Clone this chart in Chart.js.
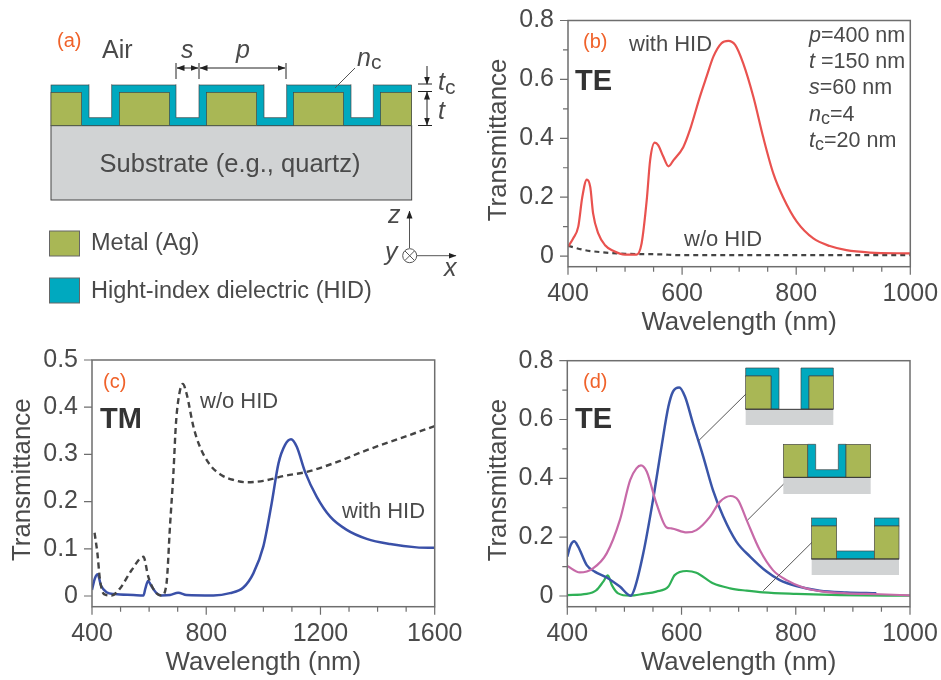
<!DOCTYPE html>
<html>
<head>
<meta charset="utf-8">
<title>Transmittance</title>
<script src="https://cdn.jsdelivr.net/npm/chart.js@4"></script>
<style>
  html, body { margin: 0; padding: 0; background: #fff; }
  #page { position: relative; width: 941px; height: 680px; overflow: hidden; }
  canvas { position: absolute; }
  #overlay { position: absolute; left: 0; top: 0; pointer-events: none; }
  #overlay text { font-family: "Liberation Sans", Arial, sans-serif; fill: #4a4a4a; }
  #overlay .tag { fill: #f0622a; font-size: 20px; }
  #overlay .it { font-style: italic; }
  #overlay .big { font-weight: bold; fill: #333; font-size: 29px; }
  #overlay .lab { font-size: 22px; }
  #overlay .par { font-size: 21.5px; }
</style>
</head>
<body>
<div id="page">
  <canvas id="chartB" width="461" height="340" style="left:480px;top:0"></canvas>
  <canvas id="chartC" width="470" height="340" style="left:0;top:340px"></canvas>
  <canvas id="chartD" width="461" height="340" style="left:480px;top:340px"></canvas>

  <svg id="overlay" width="941" height="680" xmlns="http://www.w3.org/2000/svg">
    <defs>
      <marker id="ah" viewBox="0 0 8 8" refX="7.5" refY="4" markerWidth="8" markerHeight="8" orient="auto-start-reverse">
        <path d="M0 1 L8 4 L0 7 Z" fill="#222"/>
      </marker>
    </defs>

    <!-- panel a: grating -->
    <g transform="scale(0.33333)">
      <rect x="153" y="377" width="1082" height="223" fill="#d1d3d4" stroke="#444" stroke-width="3"/>
      <rect x="153" y="255" width="1082" height="122" fill="#00a9bf" stroke="#444" stroke-width="2"/>
      <g fill="#a9b755" stroke="#444" stroke-width="2">
        <rect x="153" y="277" width="92" height="100"/>
        <rect x="358" y="277" width="150" height="100"/>
        <rect x="620" y="277" width="150" height="100"/>
        <rect x="881" y="277" width="149" height="100"/>
        <rect x="1142" y="277" width="93" height="100"/>
      </g>
      <g fill="#fff" stroke="#444" stroke-width="2">
        <path d="M267 253 V353 H335 V253"/>
        <path d="M528 253 V353 H597 V253"/>
        <path d="M792 253 V353 H860 V253"/>
        <path d="M1053 253 V353 H1120 V253"/>
      </g>
      <g fill="#fff" stroke="none">
        <rect x="269" y="250" width="64" height="6"/>
        <rect x="530" y="250" width="65" height="6"/>
        <rect x="794" y="250" width="64" height="6"/>
        <rect x="1055" y="250" width="63" height="6"/>
      </g>
    </g>
    <g stroke="#222" stroke-width="1" fill="none">
      <path d="M176 63 V79 M199 63 V79 M286 63 V79"/>
      <path d="M177 68 H198" marker-start="url(#ah)" marker-end="url(#ah)"/>
      <path d="M200 68 H285" marker-start="url(#ah)" marker-end="url(#ah)"/>
      <path d="M427 66 V84" marker-end="url(#ah)"/>
      <path d="M427 92 V125" marker-start="url(#ah)" marker-end="url(#ah)"/>
      <path d="M418 84 H432 M418 91.5 H432 M418 125.5 H432"/>
      <path d="M355 68 L335 88" stroke="#555"/>
      <path d="M409.5 248 V211" marker-end="url(#ah)" stroke="#555"/>
      <path d="M417 255.7 H456" marker-end="url(#ah)" stroke="#555"/>
      <circle cx="409.7" cy="255.7" r="7" stroke="#555"/>
      <path d="M405 251 L414.4 260.4 M414.4 251 L405 260.4" stroke="#555"/>
    </g>
    <rect x="49.5" y="231" width="30" height="25" fill="#a9b755" stroke="#666" stroke-width="1"/>
    <rect x="49.5" y="278" width="30" height="25" fill="#00a9bf" stroke="#666" stroke-width="1"/>

    <text class="tag" x="57" y="47">(a)</text>
    <text x="102" y="58" font-size="25">Air</text>
    <text class="it" x="181" y="58" font-size="25">s</text>
    <text class="it" x="236" y="58" font-size="25">p</text>
    <text x="357" y="66" font-size="25"><tspan class="it">n</tspan><tspan font-size="21" dy="3">c</tspan></text>
    <text x="438" y="90" font-size="25"><tspan class="it">t</tspan><tspan font-size="21" dy="4">c</tspan></text>
    <text class="it" x="438" y="119" font-size="25">t</text>
    <text x="230" y="172" font-size="25.5" text-anchor="middle">Substrate (e.g., quartz)</text>
    <text x="91" y="250" font-size="23.5">Metal (Ag)</text>
    <text x="91" y="298" font-size="23.5">Hight-index dielectric (HID)</text>
    <text class="it" x="388" y="223" font-size="25">z</text>
    <text class="it" x="385" y="260" font-size="25">y</text>
    <text class="it" x="444" y="276" font-size="25">x</text>

    <!-- panel b labels -->
    <text class="tag" x="583" y="48">(b)</text>
    <text class="lab" x="629" y="51">with HID</text>
    <text class="big" x="575" y="90">TE</text>
    <text class="lab" x="684" y="246">w/o HID</text>
    <text class="par" x="809" y="42"><tspan class="it">p</tspan>=400 nm</text>
    <text class="par" x="809" y="68"><tspan class="it">t</tspan> =150 nm</text>
    <text class="par" x="809" y="94"><tspan class="it">s</tspan>=60 nm</text>
    <text class="par" x="809" y="121"><tspan class="it">n</tspan><tspan font-size="18" dy="3">c</tspan><tspan dy="-3">=4</tspan></text>
    <text class="par" x="809" y="147"><tspan class="it">t</tspan><tspan font-size="18" dy="3">c</tspan><tspan dy="-3">=20 nm</tspan></text>

    <!-- panel c labels -->
    <text class="tag" x="103" y="388">(c)</text>
    <text class="big" x="100" y="428">TM</text>
    <text class="lab" x="200" y="408">w/o HID</text>
    <text class="lab" x="342" y="518">with HID</text>

    <!-- panel d labels and small structures -->
    <text class="tag" x="583" y="388">(d)</text>
    <text class="big" x="575" y="428">TE</text>
    <g transform="translate(480,340) scale(0.33333)">
      <g stroke="#555" stroke-width="3">
        <path d="M805 155 L655 303 M915 428 L803 540 M1003 600 L850 752"/>
      </g>
      <g fill="#d1d3d4">
        <rect x="797" y="208" width="263" height="47"/>
        <rect x="910" y="412" width="262" height="50"/>
        <rect x="995" y="657" width="262" height="48"/>
      </g>
      <g fill="#00a9bf" stroke="#444" stroke-width="2">
        <path d="M797 84 H897 V207 H873 V108 H797 Z"/>
        <path d="M1060 84 H963 V207 H987 V108 H1060 Z"/>
        <path d="M983 313 H1007 V389 H1075 V313 H1098 V412 H983 Z"/>
        <rect x="995" y="534" width="75" height="24"/>
        <rect x="1183" y="534" width="74" height="24"/>
        <rect x="1070" y="633" width="113" height="24"/>
      </g>
      <g fill="#a9b755" stroke="#444" stroke-width="2">
        <rect x="797" y="108" width="76" height="99"/>
        <rect x="987" y="108" width="73" height="99"/>
        <rect x="910" y="313" width="73" height="99"/>
        <rect x="1098" y="313" width="74" height="99"/>
        <rect x="995" y="558" width="75" height="99"/>
        <rect x="1183" y="558" width="74" height="99"/>
      </g>
      <path d="M797 208 H1060 M910 412 H1172 M995 657 H1257" stroke="#333" stroke-width="3"/>
    </g>
  </svg>
</div>

<script>
// panel b, TE
const bRedX = [400,409,418,425,433,439,444,453,465,479,500,520,529,538,544,552,558,567,576,585,602,614,631,643,655,669,681,693,707,725,742,760,777,801,830,859,888,929,1000];
const bRedY = [.032,.06,.10,.20,.26,.235,.145,.077,.037,.018,.005,.005,.043,.19,.326,.385,.377,.338,.305,.326,.37,.43,.54,.61,.678,.723,.731,.717,.655,.54,.405,.28,.20,.117,.06,.034,.02,.012,.009];
const bDashX = [400,430,460,500,560,600,800,1000];
const bDashY = [.035,.02,.013,.008,.006,.003,.003,.003];

// panel c, TM
const cBlueX = [400,410,420,431,451,480,545,580,587,596,609,626,642,673,702,731,825,883,930,965,1000,1029,1053,1076,1097,1117,1146,1187,1234,1292,1362,1444,1537,1600];
const cBlueY = [.013,.037,.046,.023,.008,.004,.002,.001,.016,.032,.02,.006,.001,.002,.007,.002,.001,.006,.018,.048,.105,.196,.281,.32,.332,.316,.263,.21,.168,.14,.121,.11,.103,.102];
const cDashX = [409,419,428,442,469,498,539,580,597,621,644,661,673,685,694,706,718,731,755,778,813,854,895,942,1000,1070,1152,1245,1362,1479,1600];
const cDashY = [.134,.09,.034,.004,.001,.016,.055,.083,.041,.009,.001,.027,.147,.26,.366,.429,.449,.429,.359,.316,.278,.256,.246,.241,.244,.254,.263,.281,.309,.334,.36];

// panel d, TE, three structures
const dBlueX = [400,406,412,419,434,448,469,492,511,518,533,550,565,577,585,596,606,620,638,655,673,696,720,749,772,801,842,889,941];
const dBlueY = [.134,.173,.186,.168,.105,.083,.063,.032,.001,.026,.145,.326,.508,.644,.695,.709,.678,.587,.474,.36,.27,.185,.134,.083,.054,.034,.018,.012,.009];
const dPinkX = [400,422,445,469,492,510,521,529,539,556,574,582,609,626,650,667,686,699,714,737,760,784,813,848,889,947,1000];
const dPinkY = [.102,.08,.094,.145,.258,.394,.434,.444,.423,.315,.233,.23,.216,.224,.27,.32,.34,.326,.258,.156,.088,.054,.029,.015,.009,.006,.002];
const dGreenX = [400,434,451,463,471,478,489,510,533,556,577,588,609,626,655,685,714,743,801,877,1000];
const dGreenY = [.003,.007,.02,.049,.07,.037,.009,.001,.007,.015,.032,.071,.085,.079,.043,.026,.018,.012,.007,.003,.001];

// tick marks and labels
const teXTicks = [400,450,500,550,600,650,700,750,800,850,900,950,1000];
const teXLabels = [400,600,800,1000];
const teYTicks = [0,.1,.2,.3,.4,.5,.6,.7,.8];
const teYLabels = [0,.2,.4,.6,.8];
const tmXTicks = [400,500,600,700,800,900,1000,1100,1200,1300,1400,1500,1600];
const tmXLabels = [400,800,1200,1600];
const tmYTicks = [0,.1,.2,.3,.4,.5];

const axisColor = "#6e6e6e";
const textColor = "#4a4a4a";
const font = "'Liberation Sans', Arial, sans-serif";

function zip(xs, ys) {
  return xs.map((x, i) => ({ x: x, y: ys[i] }));
}

// frame plus major/minor tick marks, both sticking out of the plot
const framePlugin = {
  id: "frame",
  afterDraw(chart, args, opts) {
    const { ctx, chartArea: a, scales } = chart;
    ctx.save();
    ctx.strokeStyle = axisColor;
    ctx.lineWidth = 1.5;
    ctx.strokeRect(a.left, a.top, a.right - a.left, a.bottom - a.top);
    ctx.lineWidth = 1.2;
    ctx.beginPath();
    opts.xTicks.forEach(v => {
      const px = scales.x.getPixelForValue(v);
      ctx.moveTo(px, a.bottom);
      ctx.lineTo(px, a.bottom + (opts.xLabels.includes(v) ? 8 : 5));
    });
    opts.yTicks.forEach(v => {
      const py = scales.y.getPixelForValue(v);
      ctx.moveTo(a.left, py);
      ctx.lineTo(a.left - (opts.yLabels.includes(v) ? 8 : 5), py);
    });
    ctx.stroke();
    ctx.restore();
  }
};

function makeChart(id, cfg) {
  return new Chart(document.getElementById(id), {
    type: "line",
    data: { datasets: cfg.datasets },
    plugins: [framePlugin],
    options: {
      responsive: false,
      animation: false,
      layout: { padding: { top: cfg.padTop, right: cfg.padRight } },
      elements: { point: { radius: 0 }, line: { cubicInterpolationMode: "monotone", borderWidth: 2.2 } },
      plugins: {
        legend: { display: false },
        tooltip: { enabled: false },
        frame: { xTicks: cfg.xTicks, xLabels: cfg.xLabels, yTicks: cfg.yTicks, yLabels: cfg.yLabels }
      },
      scales: {
        x: {
          type: "linear",
          min: cfg.xMin,
          max: cfg.xMax,
          border: { display: false },
          grid: { display: false },
          afterBuildTicks: s => { s.ticks = cfg.xLabels.map(v => ({ value: v })); },
          // labels may hang past the plot, so no extra room is kept for them
          afterFit: s => { s.height = 73.3; s.paddingLeft = 0; s.paddingRight = 0; },
          ticks: { autoSkip: false, maxRotation: 0, padding: 4, color: textColor, font: { family: font, size: 25 }, callback: v => String(v) },
          title: { display: true, text: "Wavelength (nm)", color: textColor, padding: { top: 0, bottom: 2 }, font: { family: font, size: 25.8 } }
        },
        y: {
          min: cfg.yMin,
          max: cfg.yMax,
          border: { display: false },
          grid: { display: false },
          afterBuildTicks: s => { s.ticks = cfg.yLabels.map(v => ({ value: v })); },
          afterFit: s => { s.width = cfg.yWidth; s.paddingTop = 0; s.paddingBottom = 0; },
          ticks: { autoSkip: false, padding: 6, color: textColor, font: { family: font, size: 25 }, callback: v => String(v) },
          title: { display: true, text: " Transmittance", color: textColor, padding: { top: cfg.titlePad, bottom: 0 }, font: { family: font, size: 25.8 } }
        }
      }
    }
  });
}

makeChart("chartB", {
  xMin: 400, xMax: 1000, yMin: -0.036, yMax: 0.8,
  xTicks: teXTicks, xLabels: teXLabels, yTicks: teYTicks, yLabels: teYLabels,
  yWidth: 88, padTop: 20.5, padRight: 30.7, titlePad: 3,
  datasets: [
    { data: zip(bRedX, bRedY), borderColor: "#e9524f" },
    { data: zip(bDashX, bDashY), borderColor: "#444", borderDash: [5, 4], borderWidth: 2.2 }
  ]
});

makeChart("chartC", {
  xMin: 400, xMax: 1600, yMin: -0.0227, yMax: 0.5,
  xTicks: tmXTicks, xLabels: tmXLabels, yTicks: tmYTicks, yLabels: tmYTicks,
  yWidth: 92, padTop: 20, padRight: 35.3, titlePad: 7,
  datasets: [
    { data: zip(cDashX, cDashY), borderColor: "#444", borderDash: [6, 4], borderWidth: 2.4 },
    { data: zip(cBlueX, cBlueY), borderColor: "#3a50a8", borderWidth: 2.5 }
  ]
});

makeChart("chartD", {
  xMin: 400, xMax: 1000, yMin: -0.0364, yMax: 0.8,
  xTicks: teXTicks, xLabels: teXLabels, yTicks: teYTicks, yLabels: teYLabels,
  yWidth: 87.3, padTop: 20.7, padRight: 31, titlePad: 3,
  datasets: [
    { data: zip(dPinkX, dPinkY), borderColor: "#c76aa8" },
    { data: zip(dBlueX, dBlueY), borderColor: "#3a55a8", borderWidth: 2.5 },
    { data: zip(dGreenX, dGreenY), borderColor: "#2fb056" }
  ]
});
</script>
</body>
</html>
